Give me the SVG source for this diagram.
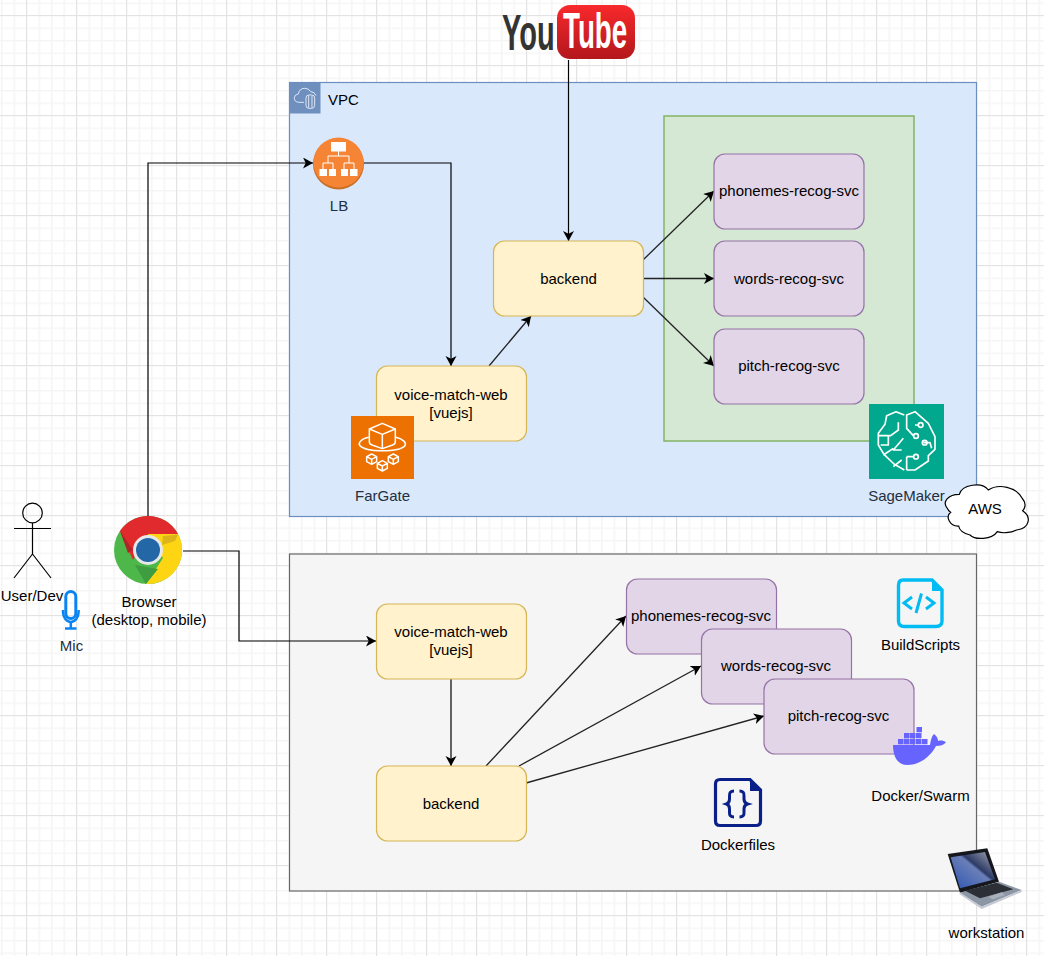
<svg xmlns="http://www.w3.org/2000/svg" width="1044" height="956" viewBox="0 0 1044 956">
<style>
text{font-family:"Liberation Sans",Arial,sans-serif;font-size:15px;fill:#000;text-anchor:middle}
.lbl{fill:#232f3e}
.yt{font-weight:700;font-size:50px;text-anchor:start}
.y{fill:#fff2cc;stroke:#d6b656;stroke-width:1.2}
.p{fill:#e1d5e7;stroke:#9673a6;stroke-width:1.2}
.c{fill:none;stroke:#000;stroke-width:1.2;marker-end:url(#a)}
.c2{fill:none;stroke:#222;stroke-width:1.3;marker-end:url(#a)}
</style>
<defs>
<marker id="a" markerUnits="userSpaceOnUse" markerWidth="12" markerHeight="12" refX="10" refY="5.500" orient="auto"><path d="M0 0L10 5.500L0 11L2.700 5.500Z" fill="#000"/></marker>
<pattern id="minor" width="12.500" height="12.500" patternUnits="userSpaceOnUse" x="1" y="2.500"><path d="M0.750 0V12.500M0 0.750H12.500" fill="none" stroke="#f5f5f5" stroke-width="1.500"/></pattern>
<pattern id="major" width="50" height="50" patternUnits="userSpaceOnUse" x="26" y="15"><path d="M0.500 0V50M0 0.500H50" fill="none" stroke="#e3e3e3" stroke-width="1"/></pattern>
<linearGradient id="ytg" x1="0" y1="0" x2="0" y2="1"><stop offset="0" stop-color="#f8292c"/><stop offset="1" stop-color="#b3171c"/></linearGradient>
<linearGradient id="scr" x1="0" y1="1" x2="1" y2="0"><stop offset="0" stop-color="#2c54b0"/><stop offset=".55" stop-color="#6a7fb8"/><stop offset=".6" stop-color="#2d3a66"/><stop offset="1" stop-color="#a9aeb8"/></linearGradient>
</defs>
<rect width="1044" height="956" fill="#fff"/>
<rect width="1044" height="956" fill="url(#minor)"/>
<rect width="1044" height="956" fill="url(#major)"/>

<g id="vpc">
<rect x="289.500" y="82.500" width="687" height="434" fill="#dae8fc" stroke="#6c8ebf" stroke-width="1.200"/>
<rect x="290" y="83" width="30.500" height="30.500" fill="#6f8fbf"/>
<g transform="translate(280 75) scale(.3333)" fill="none" stroke="#dfe8f5" stroke-width="3">
<path d="M72 82H56Q42 80 43 68Q44 58 55 57Q58 40 74 40Q87 40 92 50Q104 50 108 62"/>
<rect x="78" y="60" width="26" height="40" rx="9"/><path d="M86 62V98M96 62V98"/>
</g>
<text x="343.500" y="105">VPC</text>
</g>
<g id="sagemaker-zone"><rect x="664" y="116" width="250" height="325" fill="#d5e8d4" stroke="#82b366" stroke-width="1.500"/></g>
<g id="local"><rect x="289.500" y="554" width="687" height="337" fill="#f5f5f5" stroke="#666" stroke-width="1.200"/></g>

<g id="connectors">
<path class="c" d="M148 516V163H313"/>
<path class="c" d="M364 163H451V366"/>
<path class="c2" d="M489 366L531 316"/>
<path class="c" d="M568.500 60V241"/>
<path class="c2" d="M643 260L714 191"/>
<path class="c2" d="M643 278.500H714"/>
<path class="c2" d="M643 297L714 366"/>
<path class="c" d="M183 551H239V641H376"/>
<path class="c" d="M451 679V766"/>
<path class="c2" d="M486 766L626 616"/>
<path class="c2" d="M519 766L701 666"/>
<path class="c2" d="M526 783L764 716"/>
</g>

<g id="youtube">
<text class="yt" transform="translate(502 50) scale(.58 1)" style="fill:#333">You</text>
<rect x="557" y="5" width="78" height="54" rx="13" fill="url(#ytg)"/>
<text class="yt" transform="translate(563 48) scale(.555 1)" style="fill:#fff">Tube</text>
</g>

<g id="lb">
<circle cx="338.500" cy="164" r="25.500" fill="#c96f26"/>
<circle cx="338.500" cy="162.500" r="25" fill="#f58534"/>
<g fill="#fff"><rect x="331" y="142" width="15" height="9.500"/><rect x="319.500" y="169" width="7.500" height="7"/><rect x="329" y="169" width="7" height="7"/><rect x="341" y="169" width="7" height="7"/><rect x="350" y="169" width="7.500" height="7"/></g>
<path d="M338.500 151V156M328 163V156H349V163M323 169V163H333V169M344 169V163H354V169" fill="none" stroke="#fff" stroke-width="1"/>
<text class="lbl" x="339" y="211">LB</text>
</g>

<g id="backend-aws"><rect class="y" x="493.500" y="241" width="150" height="75" rx="11"/><text x="568.500" y="283.500">backend</text></g>
<g id="web-aws"><rect class="y" x="376.500" y="366" width="150" height="75" rx="11"/><text x="451" y="400">voice-match-web</text><text x="451" y="418">[vuejs]</text></g>
<g id="phonemes-aws"><rect class="p" x="714" y="154" width="150" height="75" rx="11"/><text x="789" y="196">phonemes-recog-svc</text></g>
<g id="words-aws"><rect class="p" x="714" y="241" width="150" height="75" rx="11"/><text x="789" y="283.500">words-recog-svc</text></g>
<g id="pitch-aws"><rect class="p" x="714" y="329" width="150" height="75" rx="11"/><text x="789" y="371">pitch-recog-svc</text></g>

<g id="fargate">
<rect x="351" y="416" width="63" height="63" fill="#ed7100"/>
<g transform="translate(340 400) scale(.3333)" fill="none" stroke="#fff" stroke-width="4.500" stroke-linejoin="round">
<path d="M88 87L127 70L166 87V125Q166 132 158 135L127 146L96 135Q88 132 88 125ZM88 87L127 103L166 87M127 103V146"/>
<path d="M86 112C60 118 54 130 60 137C70 148 100 152 127 152C155 152 185 148 195 137C200 128 190 118 168 112"/>
<path d="M80 170L95 162L110 170V185L95 193L80 185ZM80 170L95 178L110 170M95 178V193"/>
<path d="M112 190L127 182L142 190V205L127 213L112 205ZM112 190L127 198L142 190M127 198V213"/>
<path d="M145 170L160 162L175 170V185L160 193L145 185ZM145 170L160 178L175 170M160 178V193"/>
</g>
<text class="lbl" x="382.500" y="501">FarGate</text>
</g>

<g id="sagemaker">
<rect x="869" y="404" width="75" height="75" fill="#01a88d"/>
<g transform="translate(860 395) scale(.3333)" fill="none" stroke="#fff" stroke-width="5" stroke-linejoin="round">
<path d="M133 60L108 50L80 62L75 88L55 115V150L72 178L102 207L133 225M140 225L165 225L205 198V182L225 163V125L205 85L165 50L140 60V100L160 122"/>
<path d="M115 82V105L92 122H55M85 122V150H62M130 130L100 165H125M70 180L100 160M125 195L100 215M165 90H175M140 185H160M190 143H210L215 160M140 185V225"/>
<circle cx="182" cy="90" r="7"/><circle cx="168" cy="123" r="7"/><circle cx="194" cy="143" r="7"/><circle cx="168" cy="185" r="7"/>
</g>
<text class="lbl" x="906.500" y="501">SageMaker</text>
</g>

<g id="aws-cloud">
<path transform="translate(860 395) scale(.3333)" d="M262 340C245 320 265 298 298 298C305 270 365 258 385 285C415 265 470 275 488 312C500 325 495 340 488 347C515 365 510 400 470 405C450 415 425 415 412 410C395 435 345 435 330 420C310 415 298 405 296 393C270 395 255 365 272 352C268 350 264 345 262 340Z" fill="#fff" stroke="#000" stroke-width="3.600"/>
<text x="985" y="514">AWS</text>
</g>

<g id="user">
<g fill="none" stroke="#000" stroke-width="1.200"><circle cx="32.500" cy="513" r="9.800"/><path d="M32.500 523V554M14 528.500H51M32.500 554L14 578M32.500 554L51 578"/></g>
<text x="32" y="601">User/Dev</text>
</g>

<g id="mic">
<rect x="65.800" y="591.500" width="10" height="27" rx="5" fill="none" stroke="#0a84f2" stroke-width="3"/>
<path d="M63 610V612A7.800 10 0 0 0 78.600 612V610" fill="none" stroke="#0a84f2" stroke-width="2.500"/>
<path d="M70.800 622V628M65 628.500H76.500" stroke="#0a84f2" stroke-width="2.500" fill="none"/>
<text class="lbl" x="71.500" y="651">Mic</text>
</g>

<g id="browser">
<circle cx="148" cy="550" r="34" fill="#4db749"/>
<path d="M148 516A34 34 0 0 1 178 534L148 534L133 560L120 531A34 34 0 0 1 148 516Z" fill="#e12a2d"/>
<path d="M178 534A34 34 0 0 1 146 584L163 558L148 534Z" fill="#fed513"/>
<path d="M163 536L178 534.500L175 541L162 545Z" fill="#dcb51b"/>
<path d="M120 531L133 550L128 553Z" fill="#b02429"/>
<path d="M146 584L135 565L158 569Z" fill="#3e9c41"/>
<circle cx="148" cy="550" r="15" fill="#e8e8e8"/>
<circle cx="148" cy="550" r="12" fill="#2367a6"/>
<text x="149" y="607">Browser</text><text x="149" y="625">(desktop, mobile)</text>
</g>

<g id="web-local"><rect class="y" x="376.500" y="604" width="150" height="75" rx="11"/><text x="451" y="637">voice-match-web</text><text x="451" y="655">[vuejs]</text></g>
<g id="backend-local"><rect class="y" x="376.500" y="766" width="150" height="75" rx="11"/><text x="451" y="808.500">backend</text></g>
<g id="phonemes-local"><rect class="p" x="626.500" y="579" width="150" height="75" rx="11"/><text x="701" y="621">phonemes-recog-svc</text></g>
<g id="words-local"><rect class="p" x="701.500" y="629" width="150" height="75" rx="11"/><text x="776" y="671">words-recog-svc</text></g>
<g id="pitch-local"><rect class="p" x="764" y="679" width="150" height="75" rx="11"/><text x="838.500" y="721">pitch-recog-svc</text></g>

<g id="buildscripts">
<path d="M903 580H932L942 590V621Q942 626.500 936 626.500H904Q898.500 626.500 898.500 621V585.500Q898.500 580 903 580Z" fill="none" stroke="#00bcf2" stroke-width="3.400"/>
<path d="M932 579V591H943Z" fill="#00bcf2"/>
<path d="M912 597L904 603L912 609M926 597L934 603L926 609M921.500 593.500L916 613" fill="none" stroke="#00bcf2" stroke-width="3"/>
<text x="920.500" y="650">BuildScripts</text>
</g>

<g id="docker">
<path d="M893 745H930C931 739 932 736 934 734C937 736 938 739 938 741C941 740 944 741 946 742C944 745 940 746 936 746C930 757 920 765 907 765C898 765 893 757 893 745Z" fill="#6663ff"/>
<g fill="#6663ff"><rect x="898" y="739" width="5.500" height="5.300"/><rect x="904" y="739" width="5.500" height="5.300"/><rect x="910" y="739" width="5.500" height="5.300"/><rect x="916" y="739" width="5.500" height="5.300"/><rect x="922" y="739" width="5.500" height="5.300"/><rect x="904" y="733" width="5.500" height="5.300"/><rect x="910" y="733" width="5.500" height="5.300"/><rect x="916" y="733" width="5.500" height="5.300"/><rect x="916.500" y="727" width="5.500" height="5.300"/></g>
<text x="920.500" y="801">Docker/Swarm</text>
</g>

<g id="dockerfiles">
<path d="M720 779.500H750L760.500 790V821Q760.500 825.500 756 825.500H720Q715.500 825.500 715.500 821V784Q715.500 779.500 720 779.500Z" fill="none" stroke="#0a2088" stroke-width="3.200"/>
<path d="M750 778.500V791H761.500Z" fill="#0a2088"/>
<path d="M734 791Q729 791 729.500 796V799Q729.500 803 726.500 804Q729.500 805 729.500 809V812Q729 817 734 817M739.500 791Q744.500 791 744 796V799Q744 803 747.500 804Q744 805 744 809V812Q744.500 817 739.500 817" fill="none" stroke="#0a2088" stroke-width="3"/>
<text x="738" y="850">Dockerfiles</text>
</g>

<g id="workstation">
<g transform="translate(930 840) scale(.3333)">
<path d="M53 42L172 25L207 125L90 158Z" fill="#15171c"/>
<path d="M62 52L165 36L195 118L90 145Z" fill="url(#scr)"/>
<path d="M90 158L207 125L275 150L155 200Z" fill="#8d96a5"/>
<path d="M105 152L200 128L250 148L150 175Z" fill="#2c2f35"/>
<path d="M175 170L215 157L225 165L188 178Z" fill="#aab1bd"/>
<path d="M90 158L155 200L275 150V156L155 207L88 162Z" fill="#c4c9d2"/>
</g>
<text x="986.500" y="938">workstation</text>
</g>
</svg>
